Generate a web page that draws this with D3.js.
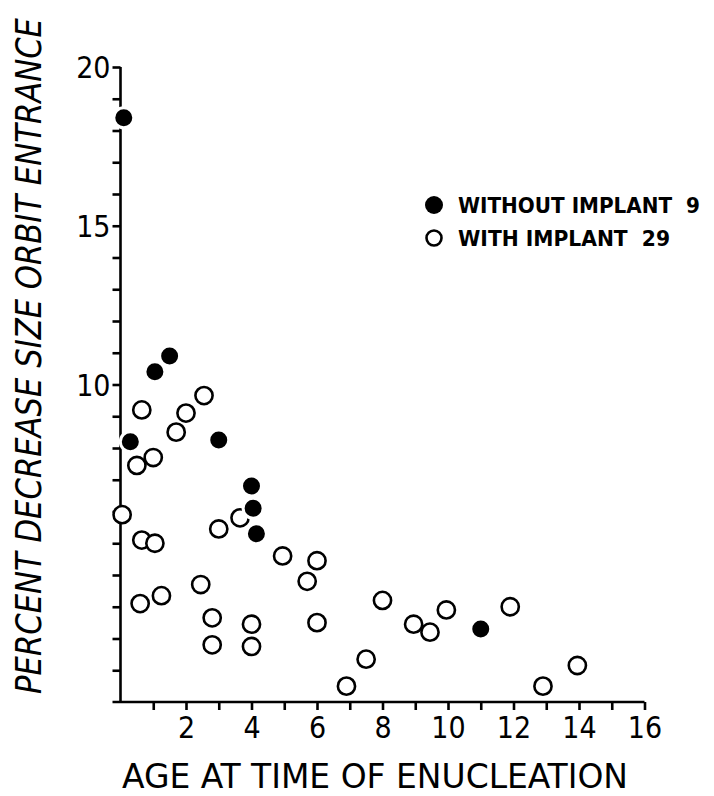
<!DOCTYPE html>
<html>
<head>
<meta charset="utf-8">
<script src="https://cdn.jsdelivr.net/npm/d3@7"></script>
<style>
  html, body { margin: 0; padding: 0; background: #fff; }
  svg { display: block; }
  text { font-family: "Liberation Sans Narrow", "DejaVu Sans Condensed", "Roboto Condensed", sans-serif; fill: #000; }
</style>
</head>
<body>
<svg id="chart" width="714" height="796"></svg>
<script>
/* ---------- data -------------------------------------------- */
// filled dots: without implant
const ageWithout = [0.1, 0.3, 1.05, 1.5, 3.0, 4.0, 4.05, 4.15, 11.0];
const pctWithout = [18.4, 8.2, 10.4, 10.9, 8.25, 6.8, 6.1, 5.3, 2.3];

// open dots: with implant
const ageWith = [0.05, 0.5, 0.65, 1.0, 1.7, 2.0, 2.55,
                 0.65, 1.05, 0.6, 1.25, 2.45, 2.8, 2.8, 3.0, 3.65,
                 4.0, 4.0, 4.95, 6.0, 5.7, 6.0,
                 6.9, 7.5, 8.0, 8.95, 9.45, 9.95, 11.9, 12.9, 13.95];
const pctWith = [5.9, 7.45, 9.2, 7.7, 8.5, 9.1, 9.65,
                 5.1, 5.0, 3.1, 3.35, 3.7, 2.65, 1.8, 5.45, 5.8,
                 2.45, 1.75, 4.6, 4.45, 3.8, 2.5,
                 0.5, 1.35, 3.2, 2.45, 2.2, 2.9, 3.0, 0.5, 1.15];

const xTicks = [1,2,3,4,5,6,7,8,9,10,11,12,13,14,15,16];
const xLabels = [2,4,6,8,10,12,14,16];
const yTicks = d3.range(1, 21);
const yLabels = [10, 15, 20];

const legendItems = [
  {label: 'WITHOUT IMPLANT  9', filled: true},
  {label: 'WITH IMPLANT  29',  filled: false}
];

/* ---------- layout ------------------------------------------ */
const svg = d3.select('#chart');
const x = d3.scaleLinear().domain([0, 16]).range([120.5, 644.5]);
const y = d3.scaleLinear().domain([0, 20]).range([702, 67]);

/* axes */
const gx = svg.append('g')
  .attr('transform', `translate(0,${y(0)})`)
  .call(d3.axisBottom(x).tickValues(xTicks).tickSize(8).tickSizeOuter(0)
        .tickFormat(d => xLabels.includes(d) ? d : ''));
gx.select('.domain').attr('d', `M${x(0) - 8},0H${x(16)}`);

const gy = svg.append('g')
  .attr('transform', `translate(${x(0)},0)`)
  .call(d3.axisLeft(y).tickValues(yTicks).tickSize(8).tickSizeOuter(0)
        .tickFormat(d => yLabels.includes(d) ? d : ''));
gy.select('.domain').attr('d', `M0,${y(20)}V${y(0)}`);

svg.selectAll('.domain, .tick line')
  .attr('stroke', '#000').attr('stroke-width', 2.6);
svg.selectAll('.tick text')
  .attr('font-size', 30)
  .style('font-family', '"Liberation Sans Narrow", "DejaVu Sans Condensed", sans-serif');
gx.selectAll('.tick text').attr('dy', '0.75em').attr('y', 13);
gy.selectAll('.tick text').attr('x', -10).attr('dy', '0.36em');

/* points */
const open = ageWith.map((a, i) => ({a, p: pctWith[i]}));
const full = ageWithout.map((a, i) => ({a, p: pctWithout[i]}));

svg.append('g').selectAll('circle')
  .data(open).enter().append('circle')
  .attr('cx', d => x(d.a)).attr('cy', d => y(d.p))
  .attr('r', 8.6)
  .attr('fill', '#fff').attr('stroke', '#000').attr('stroke-width', 2.6);

svg.append('g').selectAll('circle')
  .data(full).enter().append('circle')
  .attr('cx', d => x(d.a)).attr('cy', d => y(d.p))
  .attr('r', 10)
  .attr('fill', '#000').attr('stroke', '#fff').attr('stroke-width', 3);

/* legend */
const lg = svg.append('g');
legendItems.forEach((d, i) => {
  const cy = 205 + i * 33;
  lg.append('circle')
    .attr('cx', 434).attr('cy', cy)
    .attr('r', d.filled ? 9 : 7.5)
    .attr('fill', d.filled ? '#000' : '#fff')
    .attr('stroke', '#000').attr('stroke-width', d.filled ? 0 : 2.6);
  lg.append('text')
    .attr('x', 458).attr('y', cy).attr('dy', '0.36em')
    .attr('font-size', 22).attr('font-weight', 'bold')
    .attr('textLength', i === 0 ? 242 : 212).attr('lengthAdjust', 'spacingAndGlyphs')
    .style('white-space', 'pre')
    .text(d.label);
});

/* axis titles */
svg.append('text')
  .attr('x', 122).attr('y', 788)
  .attr('font-size', 33)
  .attr('textLength', 506).attr('lengthAdjust', 'spacingAndGlyphs')
  .text('AGE AT TIME OF ENUCLEATION');

svg.append('text')
  .attr('transform', 'translate(41,694) rotate(-90)')
  .attr('font-size', 35).attr('font-style', 'italic')
  .attr('textLength', 676).attr('lengthAdjust', 'spacingAndGlyphs')
  .text('PERCENT DECREASE SIZE ORBIT ENTRANCE');
</script>
</body>
</html>
